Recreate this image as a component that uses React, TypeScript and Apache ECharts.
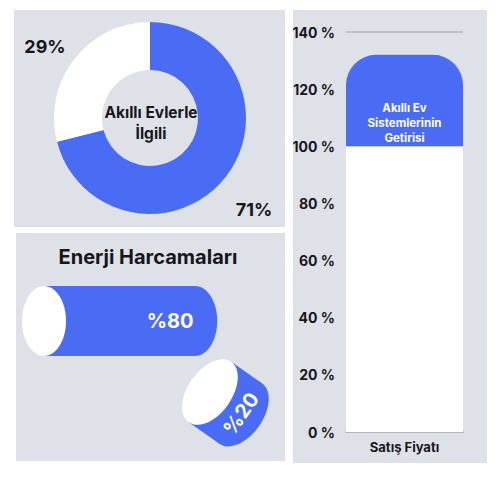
import React, { useEffect, useRef } from "react";
import * as echarts from "echarts";

// ---- data ----
const donutNames = ["Akıllı Evlerle İlgili", "Diğer"];
const donutValues = [71, 29];
const donutCenterText = "Akıllı Evlerle\nİlgili";

const energyTitle = "Enerji Harcamaları";
const energyValues = [80, 20];

const barCategories = ["Satış Fiyatı"];
const baseValues = [100];
const gainValues = [32];
const gainLabel = "Akıllı Ev\nSistemlerinin\nGetirisi";
const yTicks = { min: 0, max: 140, interval: 20 };

// ---- style / layout ----
const BLUE = "#4a6cf5";
const PANEL = "#dfe1e8";
const DARK = "#16161d";
const FONT = "Inter, 'Noto Sans', sans-serif";
const pieLabelPos = [
  [254, 209],
  [45, 46],
];
const cylLayout = [
  { x: 44, y: 321, rot: 0, ry: 35, textShift: -25, textRot: 0 },
  { x: 210, y: 392, rot: (-35 * Math.PI) / 180, ry: 37, textShift: 0, textRot: Math.PI / 2 },
];

export default function App() {
  const ref = useRef<HTMLDivElement>(null);
  useEffect(() => {
    if (!ref.current) return;
    const chart = echarts.init(ref.current, null, { renderer: "svg" });
    const option: any = {
      animation: false,
      textStyle: { fontFamily: FONT },
      graphic: [
        { type: "rect", z: -10, silent: true, shape: { x: 14, y: 10, width: 271, height: 217 }, style: { fill: PANEL } },
        { type: "rect", z: -10, silent: true, shape: { x: 16, y: 233, width: 269, height: 228 }, style: { fill: PANEL } },
        { type: "rect", z: -10, silent: true, shape: { x: 293, y: 10, width: 194, height: 453 }, style: { fill: PANEL } },
        {
          type: "text",
          z: 10,
          x: 151,
          y: 123,
          style: {
            text: donutCenterText,
            fill: DARK,
            font: `bold 15.5px ${FONT}`,
            lineHeight: 21,
            align: "center",
            verticalAlign: "middle",
          },
        },
        {
          type: "text",
          z: 10,
          x: 148,
          y: 257,
          style: {
            text: energyTitle,
            fill: DARK,
            font: `bold 20px ${FONT}`,
            align: "center",
            verticalAlign: "middle",
          },
        },
      ],
      grid: [
        { left: 346, right: 37, top: 32, bottom: 48 },
        { left: 0, top: 290, width: 189, height: 60, show: false },
      ],
      xAxis: [
        {
          gridIndex: 0,
          type: "category",
          data: barCategories,
          axisTick: { show: false },
          axisLine: { lineStyle: { color: "#b5b8c1", width: 2 } },
          axisLabel: { color: DARK, fontWeight: "bold", fontSize: 13, margin: 8, fontFamily: FONT },
        },
        { gridIndex: 1, type: "value", min: 0, max: 100, show: false },
      ],
      yAxis: [
        {
          gridIndex: 0,
          type: "value",
          min: yTicks.min,
          max: yTicks.max,
          interval: yTicks.interval,
          axisLabel: {
            formatter: "{value} %",
            color: DARK,
            fontWeight: "bold",
            fontSize: 14,
            margin: 11,
            fontFamily: FONT,
          },
          splitLine: { lineStyle: { color: "#b5b8c1", width: 1.5 } },
        },
        { gridIndex: 1, type: "value", show: false },
      ],
      series: [
        {
          type: "pie",
          center: [150, 118],
          radius: [48, 96],
          startAngle: 90,
          clockwise: true,
          data: donutNames.map((n, i) => ({
            name: n,
            value: donutValues[i],
            itemStyle: { color: i === 0 ? BLUE : "#ffffff" },
          })),
          label: {
            show: true,
            position: "inside",
            overflow: "none",
            formatter: "{c}%",
            color: DARK,
            fontWeight: "bold",
            fontSize: 18,
            fontFamily: FONT,
          },
          labelLine: { show: false },
          labelLayout: (p: any) => ({
            x: pieLabelPos[p.dataIndex][0],
            y: pieLabelPos[p.dataIndex][1],
            align: "center",
            verticalAlign: "middle",
          }),
          emphasis: { disabled: true },
        },
        {
          type: "bar",
          xAxisIndex: 0,
          yAxisIndex: 0,
          stack: "s",
          barWidth: "100%",
          data: baseValues,
          itemStyle: { color: "#ffffff" },
        },
        {
          type: "bar",
          xAxisIndex: 0,
          yAxisIndex: 0,
          stack: "s",
          barWidth: "100%",
          data: gainValues,
          itemStyle: { color: BLUE, borderRadius: [30, 30, 0, 0] },
          label: {
            show: true,
            position: "insideBottom",
            distance: 1,
            formatter: () => gainLabel,
            color: "#ffffff",
            fontWeight: "bold",
            fontSize: 11.5,
            lineHeight: 15,
            fontFamily: FONT,
          },
        },
        {
          type: "custom",
          xAxisIndex: 1,
          yAxisIndex: 1,
          data: energyValues.map((v) => [v, 0]),
          renderItem: (params: any, api: any) => {
            const v = api.value(0);
            const L = api.size([v, 0])[0];
            const lay = cylLayout[params.dataIndex];
            const ry = lay.ry;
            return {
              type: "group",
              x: lay.x,
              y: lay.y,
              rotation: lay.rot,
              children: [
                { type: "rect", shape: { x: 0, y: -ry, width: L, height: ry * 2 }, style: { fill: BLUE } },
                { type: "ellipse", shape: { cx: L, cy: 0, rx: 22, ry: ry }, style: { fill: BLUE } },
                { type: "ellipse", shape: { cx: 0, cy: 0, rx: 22, ry: ry }, style: { fill: "#ffffff" } },
                {
                  type: "text",
                  x: L + lay.textShift,
                  y: 0,
                  rotation: lay.textRot,
                  style: {
                    text: "%" + v,
                    fill: "#ffffff",
                    font: `bold 20px ${FONT}`,
                    align: "center",
                    verticalAlign: "middle",
                  },
                },
              ],
            };
          },
        },
      ],
    };
    chart.setOption(option);
    return () => chart.dispose();
  }, []);
  return (
    <div
      ref={ref}
      style={{ position: "fixed", left: 0, top: 0, width: 500, height: 480, background: "#ffffff" }}
    />
  );
}
